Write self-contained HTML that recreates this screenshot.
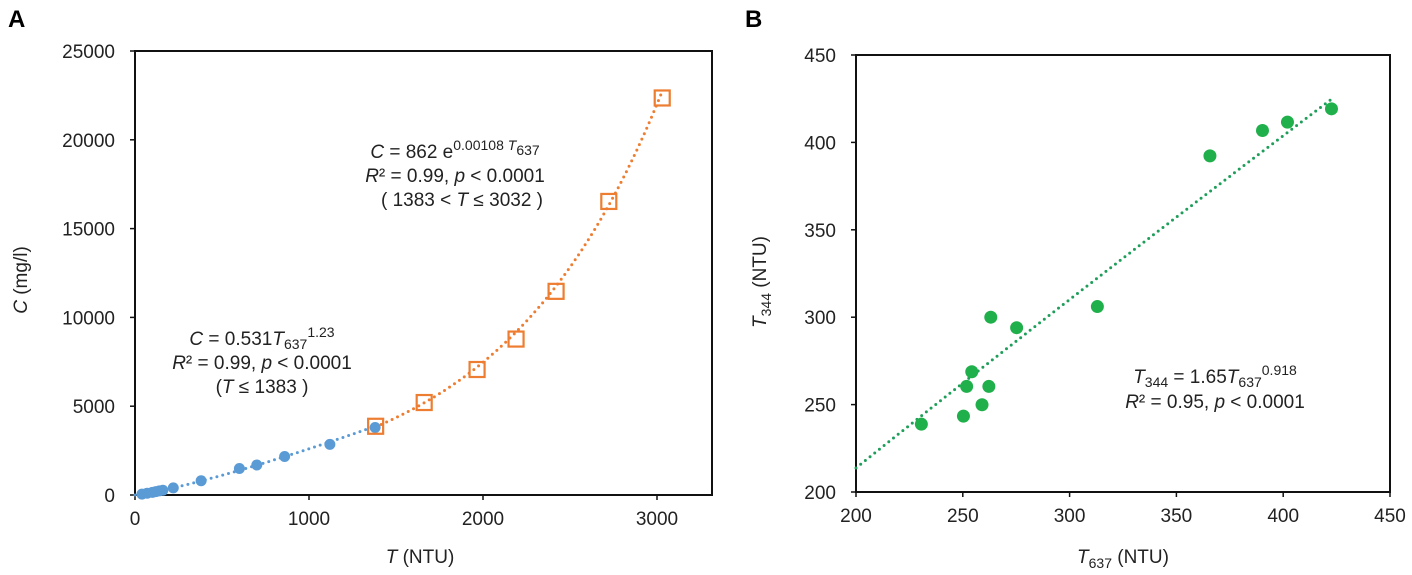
<!DOCTYPE html>
<html><head><meta charset="utf-8"><style>
body{margin:0;background:#fff;}
svg{display:block;font-family:"Liberation Sans",sans-serif;}
</style></head><body>
<svg id="c" width="1412" height="575" viewBox="0 0 1412 575" xmlns="http://www.w3.org/2000/svg">
<text x="8" y="27" font-size="24" font-weight="bold">A</text>
<text x="745" y="27" font-size="24" font-weight="bold">B</text>
<g id="A"></g>
<g id="B"></g>
<g font-size="19" fill="#222" text-anchor="middle">
<text x="455" y="158"><tspan font-style="italic">C</tspan> = 862 e<tspan dy="-8" font-size="14">0.00108 </tspan><tspan font-size="14" font-style="italic">T</tspan><tspan dy="5" font-size="14">637</tspan></text>
<text x="455" y="182"><tspan font-style="italic">R</tspan>² = 0.99, <tspan font-style="italic">p</tspan> &lt; 0.0001</text>
<text x="462" y="206">( 1383 &lt; <tspan font-style="italic">T</tspan> ≤ 3032 )</text>
<text x="262" y="345"><tspan font-style="italic">C</tspan> = 0.531<tspan font-style="italic">T</tspan><tspan dy="4" font-size="14">637</tspan><tspan dy="-12" font-size="14">1.23</tspan></text>
<text x="262" y="369"><tspan font-style="italic">R</tspan>² = 0.99, <tspan font-style="italic">p</tspan> &lt; 0.0001</text>
<text x="262" y="393">(<tspan font-style="italic">T</tspan> ≤ 1383 )</text>
<text x="1215" y="383"><tspan font-style="italic">T</tspan><tspan dy="4" font-size="14">344</tspan><tspan dy="-4"> = 1.65</tspan><tspan font-style="italic">T</tspan><tspan dy="4" font-size="14">637</tspan><tspan dy="-12" font-size="14">0.918</tspan></text>
<text x="1215" y="408"><tspan font-style="italic">R</tspan>² = 0.95, <tspan font-style="italic">p</tspan> &lt; 0.0001</text>
<text x="420" y="563"><tspan font-style="italic">T</tspan> (NTU)</text>
<text transform="translate(27,280) rotate(-90)"><tspan font-style="italic">C</tspan> (mg/l)</text>
<text x="1123" y="563"><tspan font-style="italic">T</tspan><tspan dy="5" font-size="14">637</tspan><tspan dy="-5"> (NTU)</tspan></text>
<text transform="translate(766,282) rotate(-90)"><tspan font-style="italic">T</tspan><tspan dy="5" font-size="14">344</tspan><tspan dy="-5"> (NTU)</tspan></text>
</g>
</svg>
<script>
const aBlueX=[40,70,100,120,140,160,220,380,600,700,860,1120,1380];
const aBlueY=[50,100,150,190,230,270,400,800,1490,1690,2170,2850,3800];
const aOrangeX=[1383,1662,1966,2190,2420,2723,3030];
const aOrangeY=[3870,5207,7066,8780,11467,16529,22355];
const aXTicks=[0,1000,2000,3000];
const aYTicks=[0,5000,10000,15000,20000,25000];
const bX=[230.6,250.3,251.8,254.2,259.0,262.2,263.1,275.2,313.0,365.7,390.3,402.0,422.6];
const bY=[238.8,243.4,260.4,268.8,249.9,260.4,300.0,294.0,306.1,392.3,406.8,411.6,419.2];
const bXTicks=[200,250,300,350,400,450];
const bYTicks=[200,250,300,350,400,450];
const NS="http://www.w3.org/2000/svg";
function mk(p,t,a){const e=document.createElementNS(NS,t);for(const k in a)e.setAttribute(k,a[k]);p.appendChild(e);return e;}
function axes(g,L,R,T,B,sx,sy,xt,yt,pfx){
  const f=mk(g,'rect',{x:L,y:T,width:R-L,height:B-T,fill:'none',stroke:'#111','stroke-width':2});
  
  
  xt.forEach(v=>{const x=sx(v);
    const t=mk(g,'line',{x1:x,x2:x,y1:B,y2:B+5,stroke:'#111','stroke-width':1.5});
    
    
    const l=mk(g,'text',{x:x,y:B+30,'font-size':19,'text-anchor':'middle',fill:'#222'});l.textContent=v;
    
    });
  yt.forEach(v=>{const y=sy(v);
    const t=mk(g,'line',{x1:L-5,x2:L,y1:y,y2:y,stroke:'#111','stroke-width':1.5});
    
    
    const l=mk(g,'text',{x:L-20,y:y+7,'font-size':19,'text-anchor':'end',fill:'#222'});l.textContent=v;
    
    });
}
// Panel A
const gA=document.getElementById('A');
const aL=135,aR=712,aT=51,aB=495;
const sxA=v=>aL+v/3000*(657-135), syA=v=>aB-v/25000*(aB-aT);
axes(gA,aL,aR,aT,aB,sxA,syA,aXTicks,aYTicks,'a-');
let p=[];for(let x=0;x<=1383;x+=20)p.push(sxA(x)+','+syA(0.531*Math.pow(x,1.23)));
let l1=mk(gA,'polyline',{points:p.join(' '),fill:'none',stroke:'#5b9bd5','stroke-width':3,'stroke-dasharray':'0 6','stroke-linecap':'round'});


p=[];for(let x=1383;x<=3045;x+=15)p.push(sxA(x)+','+syA(862*Math.exp(0.00108*x)));
let l2=mk(gA,'polyline',{points:p.join(' '),fill:'none',stroke:'#ed7d31','stroke-width':3,'stroke-dasharray':'0 6','stroke-linecap':'round'});


aBlueX.forEach((v,i)=>{const c=mk(gA,'circle',{cx:sxA(v),cy:syA(aBlueY[i]),r:5.5,fill:'#5b9bd5'});
  
  });
aOrangeX.forEach((v,i)=>{const x=sxA(v),y=syA(aOrangeY[i]);
  const r=mk(gA,'rect',{x:x-7.5,y:y-7.5,width:15,height:15,fill:'none',stroke:'#ed7d31','stroke-width':2.2});
  
  });
// Panel B
const gB=document.getElementById('B');
const bL=856,bR=1390,bT=55,bB=492;
const sxB=v=>bL+(v-200)/250*(bR-bL), syB=v=>bB-(v-200)/250*(bB-bT);
axes(gB,bL,bR,bT,bB,sxB,syB,bXTicks,bYTicks,'b-');
p=[];for(let x=200;x<=424;x+=4)p.push(sxB(x)+','+syB(1.65*Math.pow(x,0.918)));
let l3=mk(gB,'polyline',{points:p.join(' '),fill:'none',stroke:'#1e9e5a','stroke-width':3,'stroke-dasharray':'0 6','stroke-linecap':'round'});


bX.forEach((v,i)=>{const c=mk(gB,'circle',{cx:sxB(v),cy:syB(bY[i]),r:6.5,fill:'#20b04b'});
  
  });
</script>
</body></html>
